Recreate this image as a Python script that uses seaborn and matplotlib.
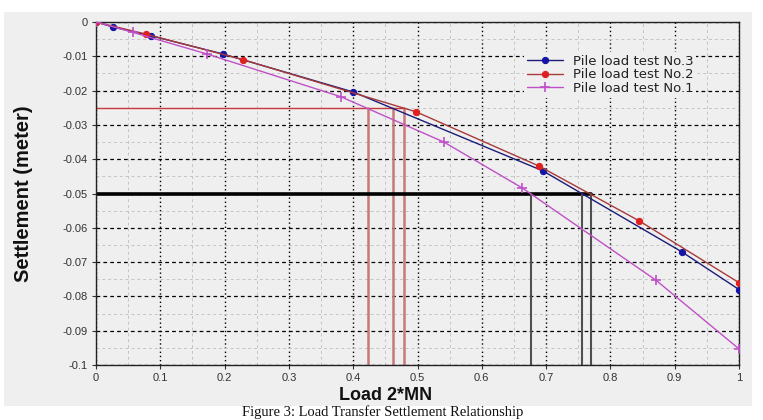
import numpy as np
import pandas as pd
import matplotlib
matplotlib.use("Agg")
import matplotlib.pyplot as plt
from matplotlib.ticker import MultipleLocator
from matplotlib.patches import Rectangle
import seaborn as sns

# values
load_no3 = [0.0, 0.027, 0.085, 0.197, 0.400, 0.695, 0.911, 1.0]
settle_no3 = [0.0, -0.0015, -0.0040, -0.0093, -0.0204, -0.0434, -0.0670, -0.0780]
load_no2 = [0.0, 0.077, 0.229, 0.498, 0.689, 0.845, 1.0]
settle_no2 = [0.0, -0.0035, -0.0110, -0.0262, -0.0420, -0.0580, -0.0760]
load_no1 = [0.0, 0.057, 0.172, 0.381, 0.541, 0.663, 0.871, 1.0]
settle_no1 = [0.0, -0.0030, -0.0093, -0.0218, -0.0350, -0.0484, -0.0753, -0.0953]

level_25 = -0.025
cross_25 = [0.423, 0.462, 0.479]
level_50 = -0.05
cross_50 = [0.676, 0.756, 0.770]

x_ticks = [0, 0.1, 0.2, 0.3, 0.4, 0.5, 0.6, 0.7, 0.8, 0.9, 1]
x_labels = ["0", "0.1", "0.2", "0.3", "0.4", "0.5", "0.6", "0.7", "0.8", "0.9", "1"]
y_ticks = [0, -0.01, -0.02, -0.03, -0.04, -0.05, -0.06, -0.07, -0.08, -0.09, -0.1]
y_labels = ["0", "-0.01", "-0.02", "-0.03", "-0.04", "-0.05", "-0.06", "-0.07", "-0.08", "-0.09", "-0.1"]

panel = "#efefef"
sns.set_style("white", {"axes.facecolor": panel})
plt.rcParams["font.family"] = ["Liberation Sans", "DejaVu Sans"]

fig = plt.figure(figsize=(7.63, 4.20), dpi=100)
fig.patch.set_facecolor("white")
fig.patches.append(Rectangle((4 / 763, 1 - 406 / 420), 748 / 763, 394 / 420,
                             transform=fig.transFigure, facecolor=panel,
                             edgecolor="none", zorder=-10))
ax = fig.add_axes([96 / 763, 1 - 365 / 420, 643 / 763, 343 / 420])

# grid
ax.xaxis.set_minor_locator(MultipleLocator(0.05))
ax.yaxis.set_minor_locator(MultipleLocator(0.005))
ax.grid(which="minor", color="#c4c4c4", linestyle=(0, (3, 3)), lw=0.7)
ax.grid(which="major", axis="x", color="black", linestyle=(0, (1, 2)), lw=1.0)
ax.grid(which="major", axis="y", color="black", linestyle=(0, (3, 2.5)), lw=0.9)
ax.set_axisbelow(True)

# reference lines
ax.plot([0, cross_25[-1]], [level_25, level_25], color="#c83838", lw=1.0, zorder=2)
for xv in cross_25:
    ax.plot([xv, xv], [level_25, -0.1], color="#c87878", lw=1.8, zorder=2)
ax.plot([0, cross_50[-1]], [level_50, level_50], color="black", lw=2.6, zorder=2)
for xv in cross_50:
    ax.plot([xv, xv], [level_50, -0.1], color="#505050", lw=1.5, zorder=2)

df3 = pd.DataFrame({"load": load_no3, "settle": settle_no3})
df2 = pd.DataFrame({"load": load_no2, "settle": settle_no2})
df1 = pd.DataFrame({"load": load_no1, "settle": settle_no1})

sns.lineplot(data=df3, x="load", y="settle", ax=ax, color="#1c1c78", lw=1.0,
             marker="o", markersize=4.5, markerfacecolor="#1414a8",
             markeredgecolor="#1414a8", label="Pile load test No.3", zorder=4)
sns.lineplot(data=df2, x="load", y="settle", ax=ax, color="#a83a3a", lw=1.0,
             marker="o", markersize=4.5, markerfacecolor="#e02020",
             markeredgecolor="#e02020", label="Pile load test No.2", zorder=4)
sns.lineplot(data=df1, x="load", y="settle", ax=ax, color="#c050c8", lw=1.0,
             marker="+", markersize=7, markeredgewidth=1.2,
             markeredgecolor="#c050c8", label="Pile load test No.1", zorder=4)

ax.set_xlim(0, 1)
ax.set_ylim(-0.1, 0)
ax.set_xticks(x_ticks)
ax.set_xticklabels(x_labels)
ax.set_yticks(y_ticks)
ax.set_yticklabels(y_labels)
ax.tick_params(which="major", labelsize=8, colors="#333333", length=3,
               direction="out", pad=3, left=True, bottom=True)
ax.tick_params(which="minor", length=0)
for s in ax.spines.values():
    s.set_color("#222222")
    s.set_linewidth(1.0)

ax.set_xlabel("Load 2*MN", fontsize=13, fontweight="bold", color="#111111")
ax.xaxis.set_label_coords(0.45, -0.065)
ax.set_ylabel("Settlement (meter)", fontsize=14.5, fontweight="bold",
              color="#111111")
ax.yaxis.set_label_coords(-0.098, 0.5)

leg = ax.legend(loc="upper left", bbox_to_anchor=(0.656, 0.932), frameon=True,
                fontsize=9.5, handlelength=2.7, labelspacing=0.05,
                borderpad=0.2, handletextpad=0.8)
leg.get_frame().set_facecolor(panel)
leg.get_frame().set_edgecolor("none")
leg.get_frame().set_alpha(1)
for t in leg.get_texts():
    t.set_family(["DejaVu Sans"])
    t.set_color("#222222")

fig.text(383 / 763, 1 - 419 / 420, "Figure 3: Load Transfer Settlement Relationship",
         ha="center", va="bottom", fontsize=10.5, family=["Liberation Serif"],
         color="#111111")

fig.savefig("out.png", dpi=100)
